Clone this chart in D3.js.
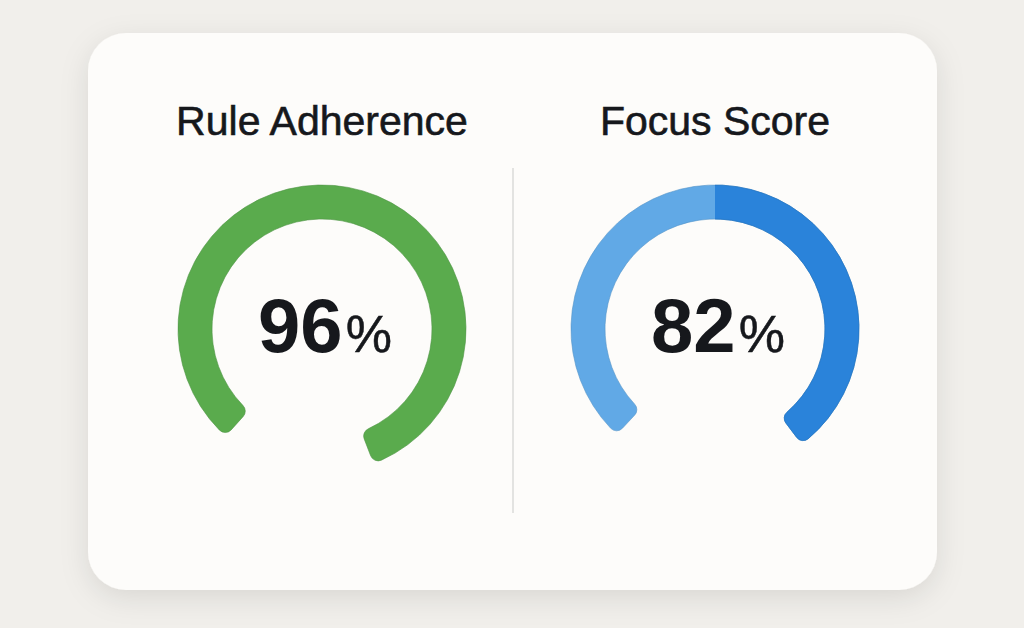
<!DOCTYPE html>
<html>
<head>
<meta charset="utf-8">
<script src="https://cdn.jsdelivr.net/npm/d3@7"></script>
<style>
  html, body { margin: 0; padding: 0; background: #f1efeb; }
  svg { display: block; }
</style>
</head>
<body>
<svg id="chart" width="1024" height="628"></svg>
<script>
// ---- data ----
const titles = ["Rule Adherence", "Focus Score"];
const values = [96, 82];
const arcStartDeg = [-138, -137];   // where each gauge track begins (clockwise from top)
const arcEndDeg = [159, 143];       // where each gauge track ends
const splitDeg = [null, 0];         // angle where the darker fill segment begins
const baseColors = ["#5aab4d", "#61a9e6"];
const fillColors = [null, "#2a83da"];

// ---- layout ----
const W = 1024, H = 628;
const svg = d3.select("#chart");
const defs = svg.append("defs");

const shadow = defs.append("filter").attr("id", "shadow")
  .attr("x", "-10%").attr("y", "-10%").attr("width", "120%").attr("height", "125%");
shadow.append("feDropShadow").attr("dx", 0).attr("dy", 8).attr("stdDeviation", 14)
  .attr("flood-color", "#000").attr("flood-opacity", 0.10);

svg.append("rect").attr("width", W).attr("height", H).attr("fill", "#f1efeb");

svg.append("rect")
  .attr("x", 88).attr("y", 33).attr("width", 849).attr("height", 557)
  .attr("rx", 38).attr("ry", 38)
  .attr("fill", "#fdfcfa")
  .attr("filter", "url(#shadow)");

// divider
svg.append("line")
  .attr("x1", 513).attr("x2", 513).attr("y1", 168).attr("y2", 513)
  .attr("stroke", "#e3e3e1").attr("stroke-width", 2);

const centers = d3.scalePoint().domain(titles).range([322, 715]);
const cy = 329;
const outerR = 144, innerR = 110;
const rad = d3.scaleLinear().domain([0, 360]).range([0, 2 * Math.PI]);

const arcGen = d3.arc().innerRadius(innerR).outerRadius(outerR).cornerRadius(8);
const wedge = d3.arc().innerRadius(0).outerRadius(outerR + 20);

titles.forEach((t, i) => {
  const cx = centers(t);
  const g = svg.append("g").attr("transform", `translate(${cx},${cy})`);

  const track = { startAngle: rad(arcStartDeg[i]), endAngle: rad(arcEndDeg[i]) };
  g.append("path").attr("d", arcGen(track))
    .attr("fill", baseColors[i])
    .attr("stroke", d3.color(baseColors[i]).darker(0.4))
    .attr("stroke-width", 0.6);

  if (splitDeg[i] !== null) {
    const clipId = "clip" + i;
    defs.append("clipPath").attr("id", clipId)
      .append("path")
      .attr("transform", `translate(${cx},${cy})`)
      .attr("d", wedge({ startAngle: rad(splitDeg[i]), endAngle: rad(arcEndDeg[i] + 20) }));
    svg.append("g").attr("clip-path", `url(#${clipId})`)
      .append("path")
      .attr("transform", `translate(${cx},${cy})`)
      .attr("d", arcGen(track))
      .attr("fill", fillColors[i])
      .attr("stroke", d3.color(fillColors[i]).darker(0.4))
      .attr("stroke-width", 0.6);
  }

  // title
  svg.append("text")
    .attr("x", cx).attr("y", 135)
    .attr("text-anchor", "middle")
    .attr("font-family", "'Liberation Sans', Arial, sans-serif")
    .attr("font-size", 41)
    .attr("fill", "#16181c")
    .attr("stroke", "#16181c")
    .attr("stroke-width", 0.6)
    .text(t);

  // value
  const v = svg.append("text")
    .attr("x", cx + 3).attr("y", 352)
    .attr("text-anchor", "middle")
    .attr("font-family", "'Liberation Sans', Arial, sans-serif")
    .attr("fill", "#16181c");
  v.append("tspan").attr("font-size", 76).attr("font-weight", 700).text(values[i]);
  v.append("tspan").attr("font-size", 52).attr("font-weight", 400)
    .attr("stroke", "#16181c").attr("stroke-width", 0.5).attr("dx", 3).text("%");
});
</script>
</body>
</html>
